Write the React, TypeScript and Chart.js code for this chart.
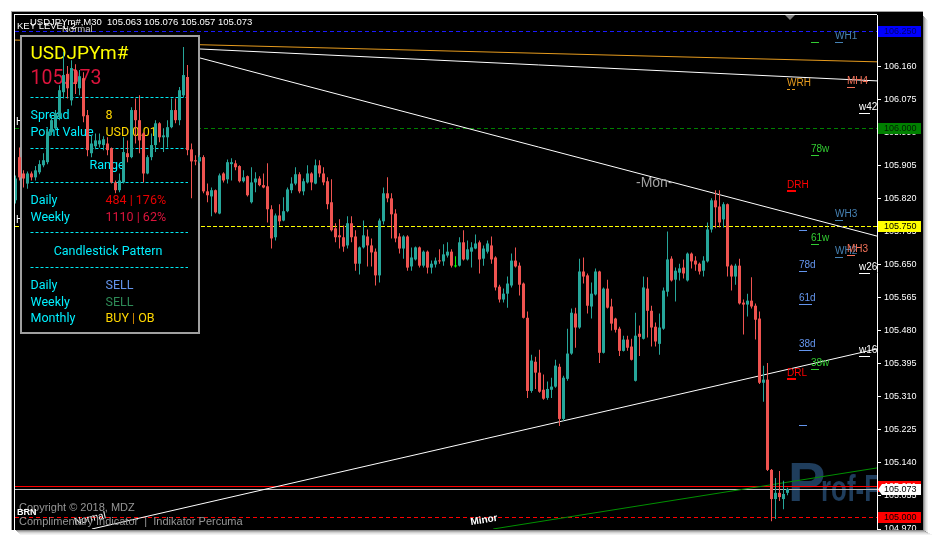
import React, { useEffect, useRef } from 'react';
import { Chart, registerables } from 'chart.js';

Chart.register(...registerables);

// ---------------- DATA ----------------
const OPEN = [
  105.815, 105.926, 105.884, 105.858, 105.884, 105.874, 105.887, 105.905, 105.913, 105.990,
  106.000, 106.029, 106.093, 106.140, 106.072, 106.150, 106.103, 106.129, 106.034, 105.936,
  105.954, 105.959, 105.957, 105.961, 105.949, 105.861, 105.841, 105.861, 105.936, 105.926,
  106.047, 106.021, 105.987, 105.884, 105.926, 105.957, 106.013, 105.977, 105.977, 106.003,
  106.047, 106.021, 106.085, 106.132, 105.946, 105.918, 105.915, 105.926, 105.838, 105.825,
  105.841, 105.781, 105.884, 105.869, 105.908, 105.910, 105.903, 105.864, 105.877, 105.810,
  105.861, 105.871, 105.854, 105.851, 105.792, 105.720, 105.776, 105.763, 105.787, 105.841,
  105.858, 105.882, 105.838, 105.861, 105.884, 105.858, 105.905, 105.884, 105.864, 105.810,
  105.743, 105.725, 105.720, 105.699, 105.756, 105.722, 105.652, 105.694, 105.722, 105.699,
  105.683, 105.622, 105.761, 105.833, 105.820, 105.781, 105.722, 105.691, 105.722, 105.645,
  105.663, 105.694, 105.647, 105.683, 105.642, 105.650, 105.660, 105.658, 105.673, 105.683,
  105.645, 105.647, 105.707, 105.663, 105.683, 105.691, 105.707, 105.665, 105.683, 105.699,
  105.668, 105.593, 105.560, 105.575, 105.596, 105.660, 105.647, 105.601, 105.513, 105.325,
  105.400, 105.372, 105.328, 105.307, 105.328, 105.336, 105.387, 105.253, 105.356, 105.421,
  105.524, 105.488, 105.632, 105.622, 105.542, 105.573, 105.632, 105.423, 105.588, 105.542,
  105.511, 105.485, 105.428, 105.457, 105.439, 105.351, 105.472, 105.459, 105.588, 105.531,
  105.490, 105.446, 105.485, 105.580, 105.665, 105.611, 105.629, 105.642, 105.609, 105.678,
  105.660, 105.652, 105.634, 105.658, 105.740, 105.815, 105.799, 105.766, 105.805, 105.647,
  105.619, 105.647, 105.552, 105.547, 105.557, 105.544, 105.511, 105.346, 105.354, 105.122,
  105.047, 105.063, 105.047, 105.063,
];
const HIGH = [
  105.879, 105.951, 105.892, 105.889, 105.889, 105.903, 105.918, 105.936, 106.000, 106.034,
  106.047, 106.111, 106.196, 106.160, 106.175, 106.165, 106.150, 106.144, 106.047, 105.982,
  105.987, 105.987, 105.980, 105.977, 105.951, 105.866, 105.884, 105.977, 105.969, 106.054,
  106.077, 106.085, 105.990, 105.931, 105.987, 106.021, 106.016, 106.000, 106.021, 106.077,
  106.077, 106.106, 106.209, 106.163, 105.961, 105.931, 105.931, 105.931, 105.858, 105.848,
  105.843, 105.884, 105.887, 105.920, 105.923, 105.918, 105.905, 105.892, 105.879, 105.900,
  105.887, 105.877, 105.884, 105.910, 105.802, 105.781, 105.805, 105.823, 105.848, 105.874,
  105.900, 105.887, 105.871, 105.905, 105.887, 105.920, 105.918, 105.900, 105.874, 105.869,
  105.756, 105.766, 105.750, 105.774, 105.774, 105.738, 105.696, 105.763, 105.740, 105.717,
  105.691, 105.768, 105.848, 105.874, 105.833, 105.792, 105.730, 105.725, 105.725, 105.694,
  105.696, 105.696, 105.686, 105.686, 105.660, 105.668, 105.689, 105.702, 105.707, 105.689,
  105.671, 105.720, 105.738, 105.712, 105.707, 105.727, 105.712, 105.699, 105.712, 105.722,
  105.671, 105.598, 105.588, 105.619, 105.678, 105.694, 105.655, 105.604, 105.529, 105.418,
  105.413, 105.431, 105.367, 105.349, 105.359, 105.405, 105.395, 105.364, 105.485, 105.537,
  105.539, 105.665, 105.668, 105.627, 105.604, 105.640, 105.634, 105.591, 105.611, 105.562,
  105.513, 105.490, 105.467, 105.467, 105.459, 105.526, 105.493, 105.619, 105.617, 105.544,
  105.501, 105.524, 105.591, 105.735, 105.671, 105.642, 105.652, 105.663, 105.681, 105.681,
  105.671, 105.655, 105.671, 105.758, 105.820, 105.841, 105.841, 105.810, 105.807, 105.650,
  105.652, 105.665, 105.560, 105.575, 105.617, 105.550, 105.529, 105.390, 105.397, 105.124,
  105.101, 105.119, 105.094, 105.076,
];
const LOW = [
  105.807, 105.866, 105.848, 105.845, 105.866, 105.866, 105.882, 105.900, 105.908, 105.982,
  105.995, 106.021, 106.077, 106.077, 106.059, 106.088, 106.085, 106.016, 105.928, 105.926,
  105.946, 105.951, 105.944, 105.931, 105.858, 105.833, 105.836, 105.858, 105.913, 105.923,
  105.961, 105.936, 105.861, 105.882, 105.918, 105.939, 105.964, 105.939, 105.951, 106.000,
  106.013, 106.008, 106.080, 105.931, 105.820, 105.905, 105.910, 105.833, 105.810, 105.774,
  105.781, 105.779, 105.861, 105.858, 105.866, 105.892, 105.861, 105.861, 105.825, 105.807,
  105.836, 105.851, 105.846, 105.758, 105.691, 105.712, 105.750, 105.761, 105.784, 105.833,
  105.854, 105.833, 105.828, 105.858, 105.841, 105.856, 105.874, 105.854, 105.792, 105.735,
  105.707, 105.691, 105.683, 105.691, 105.707, 105.634, 105.624, 105.691, 105.645, 105.645,
  105.596, 105.604, 105.753, 105.810, 105.717, 105.707, 105.678, 105.665, 105.634, 105.634,
  105.660, 105.642, 105.642, 105.627, 105.627, 105.642, 105.652, 105.647, 105.668, 105.642,
  105.642, 105.645, 105.660, 105.660, 105.642, 105.689, 105.627, 105.647, 105.678, 105.652,
  105.583, 105.552, 105.552, 105.539, 105.591, 105.642, 105.570, 105.511, 105.307, 105.320,
  105.330, 105.320, 105.302, 105.302, 105.307, 105.333, 105.235, 105.248, 105.351, 105.418,
  105.436, 105.485, 105.601, 105.524, 105.511, 105.570, 105.397, 105.421, 105.537, 105.480,
  105.475, 105.415, 105.426, 105.428, 105.403, 105.349, 105.415, 105.457, 105.462, 105.439,
  105.439, 105.418, 105.482, 105.568, 105.606, 105.555, 105.609, 105.614, 105.606, 105.640,
  105.634, 105.624, 105.619, 105.655, 105.732, 105.743, 105.745, 105.745, 105.619, 105.583,
  105.598, 105.547, 105.470, 105.516, 105.537, 105.457, 105.343, 105.297, 105.119, 104.990,
  104.996, 105.042, 105.021, 105.057,
];
const CLOSE = [
  105.871, 105.874, 105.871, 105.884, 105.874, 105.892, 105.908, 105.918, 105.992, 106.021,
  106.039, 106.098, 106.137, 106.103, 106.155, 106.114, 106.134, 106.031, 105.944, 105.961,
  105.969, 105.969, 105.972, 105.944, 105.861, 105.841, 105.866, 105.939, 105.926, 106.047,
  106.021, 105.969, 105.884, 105.926, 105.957, 106.013, 105.977, 105.982, 106.003, 106.047,
  106.021, 106.098, 106.137, 105.944, 105.915, 105.915, 105.926, 105.838, 105.828, 105.841,
  105.784, 105.879, 105.866, 105.913, 105.913, 105.900, 105.864, 105.874, 105.828, 105.861,
  105.871, 105.854, 105.848, 105.792, 105.717, 105.776, 105.761, 105.787, 105.843, 105.858,
  105.882, 105.838, 105.864, 105.884, 105.861, 105.905, 105.884, 105.861, 105.805, 105.738,
  105.720, 105.720, 105.696, 105.756, 105.720, 105.652, 105.694, 105.725, 105.699, 105.681,
  105.622, 105.763, 105.833, 105.820, 105.779, 105.717, 105.691, 105.722, 105.642, 105.668,
  105.694, 105.647, 105.683, 105.642, 105.652, 105.660, 105.658, 105.676, 105.683, 105.647,
  105.645, 105.707, 105.663, 105.689, 105.694, 105.704, 105.663, 105.691, 105.704, 105.663,
  105.591, 105.560, 105.575, 105.601, 105.660, 105.645, 105.598, 105.513, 105.325, 105.403,
  105.372, 105.323, 105.305, 105.330, 105.336, 105.390, 105.253, 105.359, 105.421, 105.526,
  105.488, 105.632, 105.619, 105.544, 105.575, 105.632, 105.423, 105.588, 105.539, 105.498,
  105.482, 105.428, 105.457, 105.436, 105.405, 105.467, 105.464, 105.591, 105.531, 105.488,
  105.452, 105.488, 105.583, 105.663, 105.609, 105.634, 105.640, 105.627, 105.678, 105.658,
  105.650, 105.632, 105.660, 105.740, 105.815, 105.797, 105.758, 105.805, 105.645, 105.619,
  105.647, 105.550, 105.547, 105.557, 105.542, 105.508, 105.346, 105.354, 105.122, 105.047,
  105.063, 105.052, 105.060, 105.073,
];

const PRICE_TICKS = [
  104.970, 105.055, 105.140, 105.225, 105.310, 105.395, 105.480, 105.565,
  105.650, 105.735, 105.820, 105.905, 105.990, 106.075, 106.160, 106.245,
];
const Y_MIN = 104.970;
const Y_MAX = 106.2914;
const X_MIN = -0.125;
const X_MAX = 215.375;

const KEY_LEVELS = [106.25, 106.0, 105.75, 105.0];
const ASK = 105.081;
const BID = 105.073;

// trend lines: [bar start, price start, bar end, price end]
const TREND_ORANGE = [-0.125, 106.227, 215.375, 106.171];
const TREND_WHITE_FLAT = [46.1, 106.204, 215.375, 106.122];
const TREND_WHITE_DOWN = [46.1, 106.181, 215.375, 105.723];
const TREND_WHITE_UP = [19.1, 104.97, 215.375, 105.433];
const TREND_GREEN_UP = [119.4, 104.97, 215.375, 105.127];

// level tags on the right side
const TAG_TEXT = ['WH1', '', 'WRH', 'MH4', 'w42', '78w', 'DRH', 'WH3', '', '61w', 'WH2', 'MH3', '78d', 'w26', '61d', '38d', 'w16', '38w', 'DRL', ''];
const TAG_BAR = [204.9, 198.9, 192.9, 207.9, 210.9, 198.9, 192.9, 204.9, 195.9, 198.9, 204.9, 207.9, 195.9, 210.9, 195.9, 195.9, 210.9, 198.9, 192.9, 195.9];
const TAG_SPAN = [2, 2, 2, 2, 2.75, 2, 2.25, 2, 2, 2, 2, 2, 2, 2.75, 3.25, 3.25, 2.75, 2, 2.25, 2];
const TAG_PRICE = [106.221, 106.221, 106.1, 106.106, 106.039, 105.932, 105.84, 105.764, 105.739, 105.702, 105.67, 105.674, 105.633, 105.629, 105.548, 105.43, 105.415, 105.381, 105.356, 105.237];

const SYMBOL = 'USDJPYm#';
const TITLE = 'USDJPYm#,M30  105.063 105.076 105.057 105.073';
const LAST_PRICE = '105.073';
const SPREAD = '8';
const POINT_VALUE = 'USD 0.01';
const RANGE_DAILY = '484 | 176%';
const RANGE_WEEKLY = '1110 | 62%';
const PATTERN_DAILY = 'SELL';
const PATTERN_WEEKLY = 'SELL';
const PATTERN_MONTHLY = ['BUY', ' | ', 'OB'];

// ---------------- STYLE ----------------
const BULL = '#26a69a';
const BEAR = '#ef5350';
const DOJI = '#00ff00';
const FONT = '"Liberation Sans", Arial, sans-serif';
const PFONT = 'Roboto, "Liberation Sans", sans-serif';
const TAG_COLOR = ['#4682b4', '#32cd32', '#e69b1e', '#f5735a', '#ffffff', '#32cd32', '#ff0000', '#4682b4', '#6495ed', '#32cd32', '#4682b4', '#f5735a', '#6495ed', '#ffffff', '#6495ed', '#6495ed', '#ffffff', '#32cd32', '#ff0000', '#6495ed'];

const candleColor = (i: number) => (CLOSE[i] > OPEN[i] ? BULL : CLOSE[i] < OPEN[i] ? BEAR : DOJI);

const overlay = {
  id: 'overlay',
  beforeDraw(chart: any) {
    const ctx = chart.ctx;
    ctx.save();
    ctx.fillStyle = '#ffffff';
    ctx.fillRect(0, 0, chart.width, chart.height);
    ctx.fillStyle = '#000000';
    ctx.fillRect(12, 12, 911, 518);
    ctx.restore();
  },
  beforeDatasetsDraw(chart: any) {
    const ctx = chart.ctx;
    const a = chart.chartArea;
    const xs = chart.scales.x;
    const ys = chart.scales.y;
    const X = (v: number) => xs.getPixelForValue(v);
    const Y = (v: number) => ys.getPixelForValue(v);

    ctx.save();
    ctx.beginPath();
    ctx.rect(a.left, a.top, a.right - a.left, a.bottom - a.top);
    ctx.clip();

    // watermark
    ctx.save();
    ctx.fillStyle = '#1f3d5c';
    ctx.font = `bold 56px ${FONT}`;
    ctx.fillText('P', a.right - 89, a.bottom - 28);
    ctx.translate(a.right - 56, a.bottom - 28);
    ctx.scale(0.72, 1);
    ctx.font = `bold 36px ${FONT}`;
    ctx.fillText('rof-FX', 0, 0);
    ctx.restore();

    const hline = (price: number, color: string, dash: number[]) => {
      const y = Math.round(Y(price)) + 0.5;
      ctx.save();
      ctx.strokeStyle = color;
      ctx.lineWidth = 1;
      ctx.setLineDash(dash);
      ctx.beginPath();
      ctx.moveTo(a.left, y);
      ctx.lineTo(a.right, y);
      ctx.stroke();
      ctx.restore();
    };
    hline(KEY_LEVELS[0], '#1a1aff', [4, 3]);
    hline(KEY_LEVELS[1], '#008000', [4, 3]);
    hline(KEY_LEVELS[2], '#ffff00', [4, 2]);
    hline(KEY_LEVELS[3], '#ff0000', [4, 3]);
    hline(ASK, '#ff0000', []);
    hline(BID, '#c0c0c0', []);

    const tline = (t: number[], color: string) => {
      ctx.save();
      ctx.strokeStyle = color;
      ctx.lineWidth = 1;
      ctx.beginPath();
      ctx.moveTo(X(t[0]), Y(t[1]));
      ctx.lineTo(X(t[2]), Y(t[3]));
      ctx.stroke();
      ctx.restore();
    };
    tline(TREND_ORANGE, '#e69b1e');
    tline(TREND_WHITE_FLAT, '#ffffff');
    tline(TREND_WHITE_DOWN, '#ffffff');
    tline(TREND_WHITE_UP, '#ffffff');
    tline(TREND_GREEN_UP, '#009000');

    // right tags
    ctx.font = `10px ${FONT}`;
    ctx.textBaseline = 'alphabetic';
    TAG_TEXT.forEach((t, k) => {
      const x0 = Math.round(X(TAG_BAR[k]));
      const x1 = Math.round(X(TAG_BAR[k] + TAG_SPAN[k]));
      const y = Math.round(Y(TAG_PRICE[k]));
      const col = TAG_COLOR[k];
      ctx.save();
      ctx.strokeStyle = col;
      const thick = t === 'DRH' || t === 'DRL';
      ctx.lineWidth = thick ? 2 : 1;
      if (t === 'WRH') ctx.setLineDash([3, 2]);
      ctx.beginPath();
      ctx.moveTo(x0, y + (thick ? 0 : 0.5));
      ctx.lineTo(x1, y + (thick ? 0 : 0.5));
      ctx.stroke();
      ctx.restore();
      if (t) {
        ctx.fillStyle = col;
        ctx.fillText(t, x0, y - 3);
      }
    });

    // misc text
    ctx.fillStyle = '#a0a0a0';
    ctx.font = `14px ${FONT}`;
    ctx.fillText('-Mon-', 636, 187);

    ctx.save();
    ctx.fillStyle = '#ffffff';
    ctx.font = `bold 10px ${FONT}`;
    ctx.translate(471, 525);
    ctx.rotate(-0.16);
    ctx.fillText('Minor', 0, 0);
    ctx.restore();

    ctx.save();
    ctx.fillStyle = '#ffffff';
    ctx.font = `10px ${FONT}`;
    ctx.translate(75, 525);
    ctx.rotate(-0.22);
    ctx.fillText('Normal', 0, 0);
    ctx.restore();

    ctx.fillStyle = '#969696';
    ctx.font = `11px ${FONT}`;
    ctx.fillText('Copyright \u00a9 2018, MDZ', 19, 511);
    ctx.fillText('Complimentary Indicator  |  Indikator Percuma', 19, 525);
    ctx.fillStyle = '#ffffff';
    ctx.font = `bold 9px ${FONT}`;
    ctx.fillText('BRN', 17, 515);

    ctx.font = `10px ${FONT}`;
    ctx.fillText('H', 16, 125);
    ctx.fillText('H', 16, 223);

    ctx.font = `9.5px ${FONT}`;
    ctx.fillStyle = '#c8c8c8';
    ctx.fillText('Normal', 62, 32);
    ctx.fillStyle = '#ffffff';
    ctx.fillText(TITLE, 30, 25);
    ctx.fillText('KEY LEVEL 2', 17, 29);

    // shift marker
    ctx.fillStyle = '#808080';
    ctx.beginPath();
    ctx.moveTo(785, 15);
    ctx.lineTo(795, 15);
    ctx.lineTo(790, 20);
    ctx.closePath();
    ctx.fill();

    ctx.restore();

    // info panel
    ctx.save();
    ctx.fillStyle = '#000000';
    ctx.fillRect(20, 35, 180, 299);
    ctx.strokeStyle = '#a0a0a0';
    ctx.lineWidth = 2;
    ctx.strokeRect(21, 36, 178, 297);
    ctx.textAlign = 'left';
    ctx.textBaseline = 'alphabetic';
    ctx.font = `19px ${PFONT}`;
    ctx.fillStyle = '#ffff00';
    ctx.fillText(SYMBOL, 30.5, 59);
    ctx.font = `19.5px ${PFONT}`;
    ctx.fillStyle = '#dc143c';
    ctx.fillText(LAST_PRICE, 30.5, 84);

    ctx.strokeStyle = '#00e8f0';
    ctx.lineWidth = 1;
    ctx.setLineDash([3, 2]);
    [97.5, 148.5, 182.5, 232.5, 267.5].forEach((y) => {
      ctx.beginPath();
      ctx.moveTo(30.5, y);
      ctx.lineTo(188, y);
      ctx.stroke();
    });
    ctx.setLineDash([]);

    ctx.font = `12.5px ${PFONT}`;
    const cyan = '#00f0ff';
    const L = (t: string, y: number) => { ctx.fillStyle = cyan; ctx.fillText(t, 30.5, y); };
    const V = (t: string, y: number, c: string) => { ctx.fillStyle = c; ctx.fillText(t, 105.5, y); };
    L('Spread', 119); V(SPREAD, 119, '#ffd700');
    L('Point Value', 135.5); V(POINT_VALUE, 135.5, '#ffd700');
    ctx.textAlign = 'center';
    ctx.fillStyle = cyan;
    ctx.fillText('Range', 107, 169);
    ctx.textAlign = 'left';
    L('Daily', 204); V(RANGE_DAILY, 204, '#e80000');
    L('Weekly', 220.5); V(RANGE_WEEKLY, 220.5, '#dc143c');
    ctx.textAlign = 'center';
    ctx.fillStyle = cyan;
    ctx.fillText('Candlestick Pattern', 108, 255);
    ctx.textAlign = 'left';
    L('Daily', 289); V(PATTERN_DAILY, 289, '#6495ed');
    L('Weekly', 305.5); V(PATTERN_WEEKLY, 305.5, '#2e8b57');
    L('Monthly', 322);
    let px = 105.5;
    const mcols = ['#ffd700', '#d98c00', '#ffd700'];
    PATTERN_MONTHLY.forEach((t, k) => {
      ctx.fillStyle = mcols[k];
      ctx.fillText(t, px, 322);
      px += ctx.measureText(t).width;
    });
    ctx.restore();
  },
  afterDraw(chart: any) {
    const ctx = chart.ctx;
    const ys = chart.scales.y;
    const a = chart.chartArea;
    const Y = (v: number) => ys.getPixelForValue(v);
    ctx.save();
    // plot frame lines
    ctx.fillStyle = '#ffffff';
    ctx.fillRect(14, 14, a.right - 14, 1);
    ctx.fillRect(14, 14, 1, 516);

    // price boxes on the axis
    ctx.font = `9px ${FONT}`;
    ctx.textBaseline = 'middle';
    ctx.textAlign = 'left';
    const box = (price: number, bg: string, fg: string, label: string, pointer: boolean) => {
      const y = Math.round(Y(price));
      ctx.fillStyle = bg;
      if (pointer) {
        ctx.beginPath();
        ctx.moveTo(878, y + 0.5);
        ctx.lineTo(882, y - 5);
        ctx.lineTo(921, y - 5);
        ctx.lineTo(921, y + 6);
        ctx.lineTo(882, y + 6);
        ctx.closePath();
        ctx.fill();
      } else {
        ctx.fillRect(878, y - 5, 43, 11);
      }
      ctx.fillStyle = fg;
      ctx.fillText(label, 884, y + 1);
    };
    box(KEY_LEVELS[0], '#0000ff', '#00006a', KEY_LEVELS[0].toFixed(3), false);
    box(KEY_LEVELS[1], '#008000', '#002000', KEY_LEVELS[1].toFixed(3), false);
    box(KEY_LEVELS[2], '#ffff00', '#000000', KEY_LEVELS[2].toFixed(3), false);
    box(ASK, '#ff0000', '#ffffff', ASK.toFixed(3), false);
    box(BID, '#ffffff', '#000000', BID.toFixed(3), true);
    box(KEY_LEVELS[3], '#ff0000', '#000000', KEY_LEVELS[3].toFixed(3), false);

    // outer window frame
    ctx.fillStyle = '#ffffff';
    ctx.fillRect(0, 0, 936, 11);
    ctx.fillRect(0, 0, 11, 541);
    ctx.fillRect(0, 530, 936, 11);
    ctx.fillRect(923, 0, 13, 541);
    ctx.fillStyle = '#a0a0a0';
    ctx.fillRect(11, 11, 912, 1);
    ctx.fillRect(11, 11, 1, 519);
    const sh = ['rgba(0,0,0,0.45)', 'rgba(0,0,0,0.3)', 'rgba(0,0,0,0.18)', 'rgba(0,0,0,0.1)', 'rgba(0,0,0,0.05)'];
    sh.forEach((c, k) => {
      ctx.fillStyle = c;
      ctx.fillRect(923 + k, 16 + k, 1, 514);
      ctx.fillRect(16 + k, 530 + k, 908 + k, 1);
    });
    ctx.restore();
  },
};

export default function App() {
  const ref = useRef<HTMLCanvasElement>(null);
  useEffect(() => {
    const idx = OPEN.map((_, i) => i);
    const colors = idx.map(candleColor);
    const chart = new Chart(ref.current as HTMLCanvasElement, {
      type: 'bar',
      data: {
        datasets: [
          {
            data: idx.map((i) => ({ x: i, y: [LOW[i], HIGH[i]] })) as any,
            backgroundColor: colors,
            barThickness: 1,
            maxBarThickness: 1,
            grouped: false,
            borderWidth: 0,
            inflateAmount: 0,
            order: 2,
          } as any,
          {
            data: idx.map((i) => ({ x: i, y: [OPEN[i], CLOSE[i]] })) as any,
            backgroundColor: colors,
            barThickness: 3,
            maxBarThickness: 3,
            grouped: false,
            minBarLength: 1,
            borderWidth: 0,
            inflateAmount: 0,
            order: 1,
          } as any,
        ],
      },
      options: {
        responsive: false,
        animation: false,
        devicePixelRatio: 1,
        layout: { padding: { left: 15, top: 15, right: 0, bottom: 12 } },
        plugins: { legend: { display: false }, tooltip: { enabled: false } },
        scales: {
          x: {
            type: 'linear',
            display: false,
            min: X_MIN,
            max: X_MAX,
            offset: false,
          },
          y: {
            type: 'linear',
            position: 'right',
            min: Y_MIN,
            max: Y_MAX,
            afterFit: (s: any) => { s.width = 59; },
            afterBuildTicks: (s: any) => { s.ticks = PRICE_TICKS.map((v) => ({ value: v })); },
            ticks: {
              color: '#ffffff',
              font: { family: FONT, size: 9 },
              padding: 3,
              autoSkip: false,
              maxRotation: 0,
              callback: (v: any) => Number(v).toFixed(3),
            },
            grid: { drawOnChartArea: false, drawTicks: true, tickLength: 4, color: '#ffffff' },
            border: { display: true, color: '#ffffff', width: 1 },
          },
        },
      } as any,
      plugins: [overlay],
    });
    return () => chart.destroy();
  }, []);
  return (
    <canvas
      ref={ref}
      width={936}
      height={541}
      style={{ position: 'absolute', left: 0, top: 0, display: 'block' }}
    />
  );
}
